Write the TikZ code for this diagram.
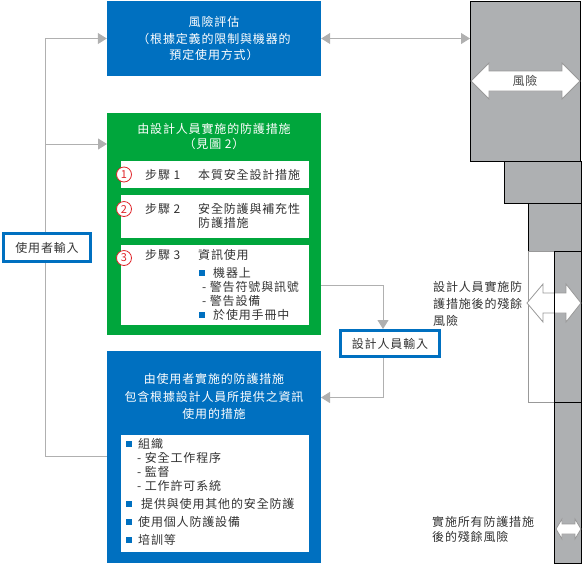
\documentclass[tikz,border=0pt]{standalone}
\usepackage{fontspec}
\setmainfont{Noto Sans CJK TC}[LetterSpace=7]
\usetikzlibrary{arrows.meta}
\definecolor{mblue}{HTML}{0070C0}
\definecolor{mgreen}{HTML}{00A63C}
\definecolor{gblock}{HTML}{AEB0B2}
\definecolor{gline}{HTML}{B0B0B0}
\definecolor{goutl}{HTML}{999999}
\definecolor{txt}{HTML}{333333}
\definecolor{cred}{HTML}{E0262B}
\begin{document}
\begin{tikzpicture}[x=1pt,y=-1pt,
  tx/.style={font=\fontsize{12}{14}\selectfont, text=txt, inner sep=0pt, anchor=west},
  wt/.style={text=white, inner sep=0pt, align=center},
  conn/.style={draw=gline, line width=1pt},
  tip/.style={-{Triangle[length=9pt,width=11pt]}},
  tips/.style={{Triangle[length=9pt,width=11pt]}-{Triangle[length=9pt,width=11pt]}},
  blk/.style={draw=black, fill=gblock, line width=1pt, inner sep=0pt, anchor=north west},
  wbox/.style={fill=white, inner sep=0pt, anchor=north west, minimum width=188pt},
  sq/.style={fill=mblue, minimum size=6.5pt, inner sep=0pt},
  num/.style={circle, draw=cred, fill=white, line width=0.8pt, minimum size=15pt, inner sep=0pt, text=cred, font=\fontsize{11}{11}\selectfont},
  inbox/.style={draw=mblue, line width=3pt, fill=white, inner sep=0pt, font=\fontsize{12}{14}\selectfont, text=txt},
  darr/.style={draw=goutl, fill=white, line width=0.8pt, line join=miter}
]
\useasboundingbox (0,0) rectangle (584,566);

% right stacked risk blocks
\node[blk, minimum width=110pt, minimum height=160pt] (b1) at (470,1) {};
\node[blk, minimum width=77pt, minimum height=42pt] (b2) at (504,161) {};
\node[blk, minimum width=53pt, minimum height=48pt] (b3) at (528,203) {};
\draw[draw=goutl, fill=white, line width=0.8pt] (528,251) rectangle (554,402);
\node[blk, minimum width=27pt, minimum height=151pt] (b4) at (554,251) {};
\node[blk, minimum width=27pt, minimum height=161pt] (b5) at (554,402) {};

% white double arrows
\draw[darr] (471,81) -- (489,63) -- (489,71) -- (562,71) -- (562,63) -- (580,81)
  -- (562,99) -- (562,91) -- (489,91) -- (489,99) -- cycle;
\node[font=\fontsize{12}{14}\selectfont, text=txt!90, inner sep=0pt] (risklbl) at (525,81) {風險};
\draw[darr] (527,303) -- (543,284) -- (543,293) -- (566,293) -- (566,284) -- (581,303)
  -- (566,322) -- (566,313) -- (543,313) -- (543,322) -- cycle;
\draw[black, line width=1pt] (b4.north west) -- (b4.south west);
\draw[darr] (556,529) -- (562,519) -- (562,524) -- (575,524) -- (575,519) -- (581,529)
  -- (575,539) -- (575,534) -- (562,534) -- (562,539) -- cycle;

% residual risk texts
\node[tx, align=left, font=\fontsize{12}{17}\selectfont] (res1) at (433,304) {設計人員實施防\\護措施後的殘餘\\風險};
\node[tx, align=left, font=\fontsize{12}{15}\selectfont] (res2) at (432,529) {實施所有防護措施\\後的殘餘風險};

% risk assessment box
\node[fill=mblue, minimum width=214pt, minimum height=75pt, wt, font=\fontsize{12}{16.2}\selectfont] (risk) at (214,38.5)
  {風險評估\\（根據定義的限制與機器的\\預定使用方式）};

% green box (designer)
\node[fill=mgreen, minimum width=214pt, minimum height=222pt, inner sep=0pt, anchor=north west] (green) at (107,113) {};
\node[wt, font=\fontsize{12}{15}\selectfont] (gtitle) at (214,136.8) {由設計人員實施的防護措施\\（見圖 2）};
\node[wbox, minimum height=27pt] (s1) at (121,161) {};
\node[wbox, minimum height=43pt] (s2) at (121,195) {};
\node[wbox, minimum height=80pt] (s3) at (121,245) {};
\node[num] (c1) at (124,174.5) {1};
\node[num] (c2) at (124,209) {2};
\node[num] (c3) at (124,258) {3};
\node[tx] (l1) at (145,174.5) {步驟 1};
\node[tx] (l2) at (145,209) {步驟 2};
\node[tx] (l3) at (145,255) {步驟 3};
\node[tx] (t1) at (198,174.5) {本質安全設計措施};
\node[tx, align=left] (t2) at (198,216) {安全防護與補充性\\防護措施};
\node[tx] (t3) at (198,255) {資訊使用};
\node[sq] (q1) at (202,273) {};
\node[tx] (t3a) at (213,273) {機器上};
\node[tx] (t3b) at (202,287) {- 警告符號與訊號};
\node[tx] (t3c) at (202,301) {- 警告設備};
\node[sq] (q2) at (202,315) {};
\node[tx] (t3d) at (213,315) {於使用手冊中};

% blue box (user)
\node[fill=mblue, minimum width=214pt, minimum height=212pt, inner sep=0pt, anchor=north west] (ublue) at (107,351) {};
\node[wt, font=\fontsize{12}{17.5}\selectfont] (utitle) at (214,396.5) {由使用者實施的防護措施\\包含根據設計人員所提供之資訊\\使用的措施};
\node[wbox, minimum height=117pt] (ulist) at (121,435) {};
\node[sq] (p1) at (129,444) {};
\node[tx] (u1) at (138,444) {組織};
\node[tx] (u1a) at (137,458) {- 安全工作程序};
\node[tx] (u1b) at (137,472) {- 監督};
\node[tx] (u1c) at (137,486) {- 工作許可系統};
\node[sq] (p2) at (129,504) {};
\node[tx] (u2) at (141,504) {提供與使用其他的安全防護};
\node[sq] (p3) at (129,522) {};
\node[tx] (u3) at (138,522) {使用個人防護設備};
\node[sq] (p4) at (129,540) {};
\node[tx] (u4) at (138,540) {培訓等};

% input boxes
\node[inbox, minimum width=87pt, minimum height=28pt] (ui) at (47,247.5) {使用者輸入};
\node[inbox, minimum width=99pt, minimum height=26pt] (di) at (390,343.5) {設計人員輸入};

% connectors
\coordinate (trunk) at (45,0);
\coordinate (gin) at (107,144);
\coordinate (bin) at (107,456);
\coordinate (gout) at (321,285);
\coordinate (bout) at (321,397.5);
\draw[conn, tip] (ui.north -| trunk) |- (risk.west);
\draw[conn, tip] (ui.north -| trunk) |- (gin);
\draw[conn] (ui.south -| trunk) |- (bin);
\draw[conn, tip] (gout) -| ([xshift=-7pt]di.north);
\draw[conn, tip] ([xshift=-7pt]di.south) |- (bout);
\draw[conn, tips] (risk.east) -- (risk.east -| b1.west);
\end{tikzpicture}
\end{document}
